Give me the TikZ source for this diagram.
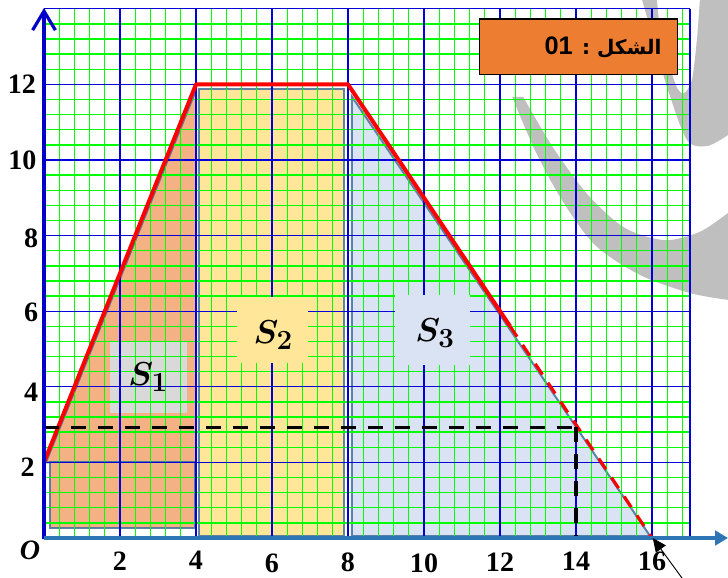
\documentclass[tikz,border=0pt]{standalone}
\usepackage{amsmath}
\usepackage{fontspec}
\newfontfamily\arabicfont[Script=Arabic]{DejaVu Sans}
\newfontfamily\numfont{Liberation Serif}
\newfontfamily\titlenum{Liberation Sans}
\TeXXeTstate=1
\usetikzlibrary{arrows.meta}
\definecolor{gridgreen}{RGB}{0,255,0}
\definecolor{gridblue}{RGB}{0,0,215}
\definecolor{sone}{HTML}{F4B183}
\definecolor{stwo}{HTML}{FFE699}
\definecolor{sthree}{HTML}{DAE3F3}
\definecolor{labgrey}{HTML}{D9D9D9}
\definecolor{edgeblue}{HTML}{41719C}
\definecolor{titleorange}{HTML}{ED7D31}
\definecolor{xaxisblue}{HTML}{2E75B6}
\definecolor{yaxisblue}{RGB}{0,0,200}
\definecolor{wmgrey}{HTML}{BFBFBF}
\begin{document}
\begin{tikzpicture}[x=1cm,y=0.9947cm,
  region/.style={draw=edgeblue, draw opacity=0.85, line width=1.5pt},
  greenline/.style={gridgreen, line width=1pt},
  blueline/.style={gridblue, line width=0.8pt},
  axisnum/.style={font=\numfont\bfseries\fontsize{21}{21}\selectfont, inner sep=0pt},
  slabel/.style={font=\fontsize{28}{28}\selectfont, inner sep=0pt},
  redline/.style={red, line width=3pt, line join=round},
  reddash/.style={red, line width=2.3pt, dash pattern=on 3.4mm off 2.6mm},
  blackdash/.style={black, line width=2.6pt, dash pattern=on 4mm off 3.1mm}]
\useasboundingbox (-1.158,-1.058) rectangle (18.0,14.233);
\fill[white] (-1.158,-1.058) rectangle (18.0,14.233);
% watermark
\fill[wmgrey] plot[smooth] coordinates {(12.32,11.67) (12.92,10.26) (13.63,8.94) (14.50,7.75) (15.68,6.96) (17.0,6.48) (18.0,6.30)}
  -- (18.0,8.60) -- plot[smooth] coordinates {(18.0,8.60) (17.26,8.10) (16.34,7.88) (15.29,8.20) (14.32,9.07) (13.39,10.34) (12.61,11.67)} -- cycle;
\fill[wmgrey] plot[smooth] coordinates {(15.74,14.23) (16.08,13.04) (16.42,11.85) (16.92,10.53) (17.45,10.37) (18.0,10.66)}
  -- (18.0,14.233) -- (17.26,14.233) -- plot[smooth] coordinates {(17.26,14.23) (17.18,13.17) (17.05,12.12) (16.84,11.77) (16.63,11.98) (16.26,13.17) (16.13,14.23)} -- cycle;
% regions
\filldraw[region, fill=sone] (0.05,2) -- (4.0,11.85) -- (4.0,2) -- cycle;
\filldraw[region, fill=sone] (0.16,0.26) rectangle (3.97,2.0);
\filldraw[region, fill=stwo] (4.07,0.05) rectangle (7.9,11.88);
\filldraw[region, fill=sthree] (8.1,0.05) -- (8.1,11.68) -- (15.95,0.05) -- cycle;
\fill[labgrey] (1.74,3.31) rectangle (3.76,5.19);
% grid
\draw[greenline, step=0.4] (0,0) grid (17,14);
\draw[blueline, step=2] (0,0) grid (17,14);
\draw[blueline] (17,0) -- (17,14);
% label boxes
\fill[stwo] (5.08,4.63) rectangle (6.95,6.38);
\fill[sthree] (9.24,4.58) rectangle (11.21,6.43);
\node[slabel] (s1) at (2.74,4.26) {$\boldsymbol{S_1}$};
\node[slabel] (s2) at (6.03,5.37) {$\boldsymbol{S_2}$};
\node[slabel] (s3) at (10.29,5.42) {$\boldsymbol{S_3}$};
% title
\filldraw[fill=titleorange, draw=black, line width=0.8pt] (11.47,12.25) rectangle (16.68,13.73);
\node[font={\arabicfont\bfseries\fontsize{15}{15}\selectfont}, inner sep=0pt] (titletext) at (14.71,12.99) {\beginR الشكل : \beginL{\titlenum\bfseries\fontsize{19}{19}\selectfont 01}\endL\endR};
% lines
\draw[redline] (0,2) -- (4,12) -- (8,12) -- (12.26,5.61);
\draw[reddash] (12.26,5.61) -- (16,0);
\draw[blackdash] (0,2.93) -- (14,2.93);
\draw[blackdash] (14,2.93) -- (14,0);
% axes
\draw[yaxisblue, line width=2.4pt, -{Straight Barb[length=5mm,width=6mm]}] (0,-0.03) -- (0,14.02);
\draw[xaxisblue, line width=3pt, -{Triangle[length=3.4mm,width=3.8mm]}] (0,0) -- (18.0,0);
\coordinate (o16) at (16.02,0);
\coordinate (cursortail) at (16.79,-1.06);
\draw[black, line width=0.7pt, -{Triangle[length=3.6mm,width=3.2mm]}] (cursortail) -- (o16);
% axis numbers
\node[axisnum] (x2) at (2,-0.62) {2};
\node[axisnum] (x4) at (4,-0.60) {4};
\node[axisnum] (x6) at (6,-0.66) {6};
\node[axisnum] (x8) at (8,-0.65) {8};
\node[axisnum] (x10) at (10,-0.68) {10};
\node[axisnum] (x12) at (12,-0.65) {12};
\node[axisnum] (x14) at (14,-0.62) {14};
\node[axisnum] (x16) at (16,-0.61) {16};
\node[axisnum] (y12) at (-0.58,12.01) {12};
\node[axisnum] (y10) at (-0.57,10.0) {10};
\node[axisnum] (y8) at (-0.34,7.94) {8};
\node[axisnum] (y6) at (-0.34,5.98) {6};
\node[axisnum] (y4) at (-0.34,3.86) {4};
\node[axisnum] (y2) at (-0.43,1.88) {2};
\node[axisnum, font=\numfont\bfseries\itshape\fontsize{21}{21}\selectfont] (orig) at (-0.37,-0.34) {O};
\end{tikzpicture}
\end{document}
